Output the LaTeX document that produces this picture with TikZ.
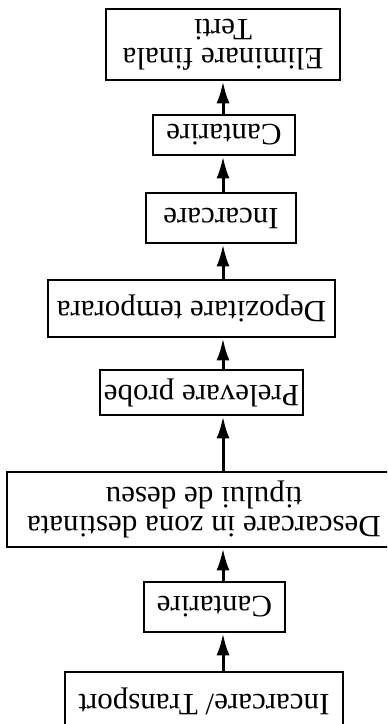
\documentclass[tikz,border=0pt]{standalone}
\usepackage{fontspec}
\setmainfont{Liberation Serif}
\usetikzlibrary{arrows.meta}
\tikzset{
    stepbox/.style={rectangle, draw=black, line width=1.3pt, rotate=180, inner sep=0pt, align=center, font=\fontsize{15.5}{14.5}\selectfont},
    steparrow/.style={-{Latex[length=11pt,width=6.5pt]}, line width=1.5pt}
}

\begin{document}
\begin{tikzpicture}[x=0.5pt,y=-0.5pt]
    \useasboundingbox (0,0) rectangle (387,724);
    \clip (0,0) rectangle (387,724);
    \coordinate (spine) at (223,0);
    \draw (223,44.5) node[stepbox, minimum width=117pt, minimum height=35.5pt] (eliminare) {Eliminare finala\\Terti};
    \draw (224,135) node[stepbox, minimum width=71pt, minimum height=20pt] (cantarireA) {Cantarire};
    \draw (221,218) node[stepbox, minimum width=75pt, minimum height=25pt] (incarcare) {Incarcare};
    \draw (191.5,308.5) node[stepbox, minimum width=143.5pt, minimum height=28.5pt] (depozitare) {Depozitare temporara};
    \draw (201.5,392.5) node[stepbox, minimum width=101.5pt, minimum height=22.5pt] (prelevare) {Prelevare probe};
    \draw (204,509.5) node[stepbox, minimum width=197pt, minimum height=37.5pt] (descarcare) {Descarcare in zona destinata\\tipului de deseu};
    \draw (214.5,607) node[stepbox, minimum width=70.5pt, minimum height=25pt] (cantarireB) {Cantarire};
    \draw (204,701) node[stepbox, minimum width=139pt, minimum height=29pt] (transport) {Incarcare/ Transport};
    \draw[steparrow] (transport.south -| spine) -- (cantarireB.north -| spine);
    \draw[steparrow] (cantarireB.south -| spine) -- (descarcare.north -| spine);
    \draw[steparrow] (descarcare.south -| spine) -- (prelevare.north -| spine);
    \draw[steparrow] (prelevare.south -| spine) -- (depozitare.north -| spine);
    \draw[steparrow] (depozitare.south -| spine) -- (incarcare.north -| spine);
    \draw[steparrow] (incarcare.south -| spine) -- (cantarireA.north -| spine);
    \draw[steparrow] (cantarireA.south -| spine) -- (eliminare.north -| spine);
\end{tikzpicture}
\end{document}
